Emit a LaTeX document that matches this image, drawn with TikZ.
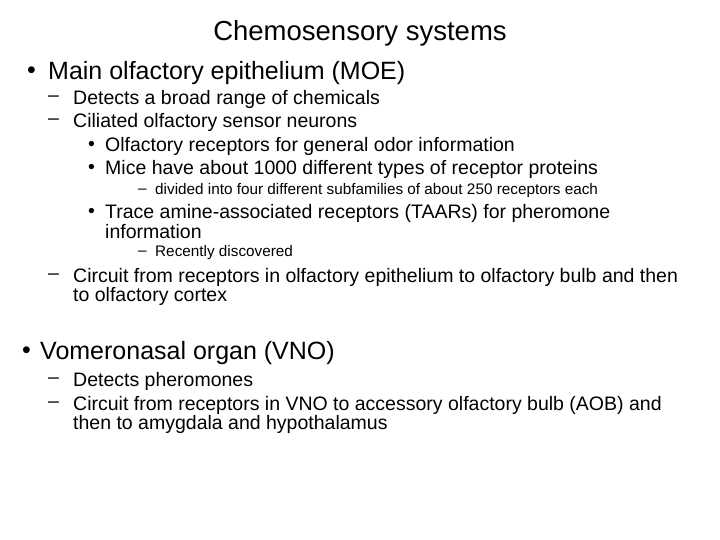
\documentclass[tikz,border=0pt]{standalone}
\usepackage{fontspec}
\setmainfont{Liberation Sans}
\begin{document}
\begin{tikzpicture}[x=1pt,y=-1pt,
  lvlone/.style={anchor=west,inner sep=0pt,font=\fontsize{25}{28}\selectfont},
  lvltwo/.style={anchor=west,inner sep=0pt,font=\fontsize{19.5}{22}\selectfont},
  lvlthree/.style={anchor=west,inner sep=0pt,font=\fontsize{19.5}{22}\selectfont},
  lvlfour/.style={anchor=west,inner sep=0pt,font=\fontsize{15.3}{18}\selectfont}]
\useasboundingbox (0,0) rectangle (720,540);
\node[inner sep=0pt,font=\fontsize{27.5}{30}\selectfont] (title) at (360,33) {Chemosensory systems};
% main olfactory epithelium
\node[lvlone] (b1) at (27,73) {•};
\node[lvlone] (moe) at (48,73) {Main olfactory epithelium (MOE)};
\node[lvltwo] (d1) at (48,99) {–};
\node[lvltwo] (broad) at (73,99) {Detects a broad range of chemicals};
\node[lvltwo] (d2) at (48,122) {–};
\node[lvltwo] (cil) at (73,122) {Ciliated olfactory sensor neurons};
\node[lvlthree] (b2) at (88,146) {•};
\node[lvlthree] (orec) at (105,146) {Olfactory receptors for general odor information};
\node[lvlthree] (b3) at (88,169) {•};
\node[lvlthree] (mice) at (105,169) {Mice have about 1000 different types of receptor proteins};
\node[lvlfour] (d3) at (138,191) {–};
\node[lvlfour] (div) at (155,191) {divided into four different subfamilies of about 250 receptors each};
\node[lvlthree] (b4) at (88,213) {•};
\node[lvlthree] (taar) at (105,213) {Trace amine-associated receptors (TAARs) for pheromone};
\node[lvlthree] (taarb) at (105,232) {information};
\node[lvlfour] (d4) at (138,253) {–};
\node[lvlfour] (recent) at (155,253) {Recently discovered};
\node[lvltwo] (d5) at (48,277) {–};
\node[lvltwo] (circ) at (73,277) {Circuit from receptors in olfactory epithelium to olfactory bulb and then};
\node[lvltwo] (circb) at (73,296) {to olfactory cortex};
% vomeronasal organ
\node[lvlone] (b5) at (22,353) {•};
\node[lvlone] (vno) at (40,353) {Vomeronasal organ (VNO)};
\node[lvltwo] (d6) at (48,381) {–};
\node[lvltwo] (pher) at (73,381) {Detects pheromones};
\node[lvltwo] (d7) at (48,405) {–};
\node[lvltwo] (circv) at (73,405) {Circuit from receptors in VNO to accessory olfactory bulb (AOB) and};
\node[lvltwo] (circvb) at (73,424) {then to amygdala and hypothalamus};
\end{tikzpicture}
\end{document}
